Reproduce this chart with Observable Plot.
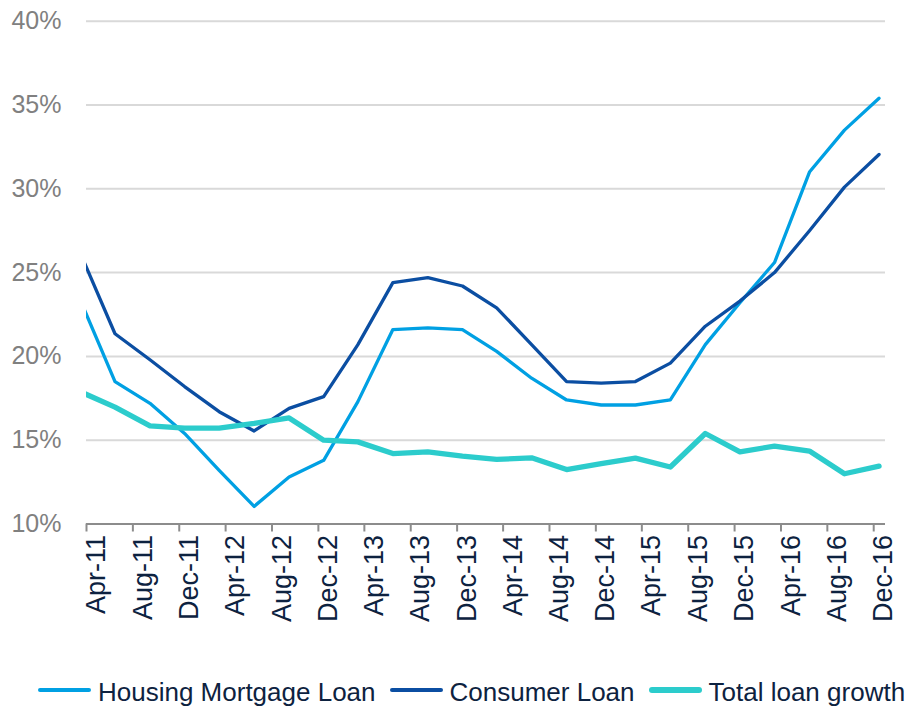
<!DOCTYPE html>
<html>
<head>
<meta charset="utf-8">
<script src="https://cdn.jsdelivr.net/npm/d3@7"></script>
<script src="https://cdn.jsdelivr.net/npm/@observablehq/plot@0.6"></script>
<style>
  body { margin: 0; background: #fff; font-family: "Liberation Sans", Arial, sans-serif; }
  #chart { width: 912px; height: 708px; position: relative; overflow: hidden; background: #fff; }
  #chart svg { position: absolute; left: 0; top: 0; }
  .legend { position: absolute; left: 38px; top: 677px; height: 30px; display: flex; align-items: center;
            font-size: 26px; line-height: 30px; color: #0d2240; white-space: nowrap; }
  .item { display: flex; align-items: center; margin-right: 14px; }
  .sw { display: inline-block; width: 53px; border-radius: 3px; margin-right: 7px; transform: translateY(-2px); }
</style>
</head>
<body>
<div id="chart"></div>
<script>
// Quarterly observation dates (mid-month of quarter end)
const quarters = [
  "2011-03-15","2011-06-15","2011-09-15","2011-12-15",
  "2012-03-15","2012-06-15","2012-09-15","2012-12-15",
  "2013-03-15","2013-06-15","2013-09-15","2013-12-15",
  "2014-03-15","2014-06-15","2014-09-15","2014-12-15",
  "2015-03-15","2015-06-15","2015-09-15","2015-12-15",
  "2016-03-15","2016-06-15","2016-09-15","2016-12-15"
];
// Series values (% growth)
const housing  = [23.4, 18.5, 17.2, 15.4, 13.2, 11.05, 12.8, 13.8, 17.3, 21.6, 21.7, 21.6,
                  20.3, 18.7, 17.4, 17.1, 17.1, 17.4, 20.7, 23.2, 25.6, 31.0, 33.5, 35.4];
const consumer = [26.2, 21.35, 19.8, 18.2, 16.7, 15.55, 16.9, 17.6, 20.7, 24.4, 24.7, 24.2,
                  22.9, 20.7, 18.5, 18.4, 18.5, 19.6, 21.8, 23.3, 25.0, 27.5, 30.1, 32.05];
const total    = [17.9, 16.97, 15.86, 15.72, 15.72, 16.0, 16.33, 15.0, 14.9, 14.2, 14.3, 14.05,
                  13.85, 13.95, 13.25, 13.6, 13.93, 13.4, 15.4, 14.3, 14.65, 14.35, 13.0, 13.45];

const seriesNames  = ["Housing Mortgage Loan", "Consumer Loan", "Total loan growth"];
const seriesColors = ["#00a0e3", "#0b4ea2", "#2ccccc"];
const seriesWidths = [3.3, 3.3, 5.3];

const yTicks = [10, 15, 20, 25, 30, 35, 40];
const xTickLabels = ["Apr-11","Aug-11","Dec-11","Apr-12","Aug-12","Dec-12","Apr-13","Aug-13","Dec-13",
                     "Apr-14","Aug-14","Dec-14","Apr-15","Aug-15","Dec-15","Apr-16","Aug-16","Dec-16"];
const xDomain = ["2011-04-01", "2017-01-01"];

const parseLabel = d3.utcParse("%b-%y");
const xTicks = xTickLabels.map(parseLabel);
const seriesValues = [housing, consumer, total];

const lineMarks = seriesValues.map((vals, s) =>
  Plot.line(quarters.map((q, i) => ({date: new Date(q), value: vals[i]})), {
    x: "date", y: "value",
    stroke: seriesColors[s], strokeWidth: seriesWidths[s],
    strokeLinejoin: "round", strokeLinecap: "round", clip: true
  })
);

const plot = Plot.plot({
  width: 912, height: 640,
  marginTop: 20.7, marginBottom: 116.5, marginLeft: 86, marginRight: 27,
  style: {fontFamily: '"Liberation Sans", Arial, sans-serif', background: "#fff", overflow: "visible"},
  x: {type: "utc", domain: xDomain.map(d => new Date(d))},
  y: {domain: [10, 40]},
  marks: [
    Plot.gridY(yTicks.slice(1), {stroke: "#d9d9d9", strokeOpacity: 1, strokeWidth: 2}),
    Plot.ruleY([10], {stroke: "#8c8c8c", strokeWidth: 2}),
    Plot.axisY(yTicks, {tickSize: 0, tickPadding: 25, tickFormat: d => d + "%", label: null,
                        fontSize: 25, fill: "#808080"}),
    // tick marks only
    Plot.axisX(xTicks, {tickSize: 8, tickFormat: () => "", label: null,
                        stroke: "#8c8c8c", strokeWidth: 2}),
    // rotated tick labels only
    Plot.axisX(xTicks, {tickSize: 0, tickPadding: 11, tickRotate: -90, label: null,
                        tickFormat: d3.utcFormat("%b-%y"),
                        fontSize: 27, fill: "#0d2240", stroke: "none", dx: 10}),
    ...lineMarks
  ]
});

const chart = document.getElementById("chart");
chart.appendChild(plot);

const legend = document.createElement("div");
legend.className = "legend";
seriesNames.forEach((name, s) => {
  const item = document.createElement("div");
  item.className = "item";
  const sw = document.createElement("span");
  sw.className = "sw";
  sw.style.background = seriesColors[s];
  sw.style.height = (s === 2 ? 5.5 : 4.5) + "px";
  const label = document.createElement("span");
  label.textContent = name;
  item.appendChild(sw);
  item.appendChild(label);
  legend.appendChild(item);
});
chart.appendChild(legend);
</script>
</body>
</html>
